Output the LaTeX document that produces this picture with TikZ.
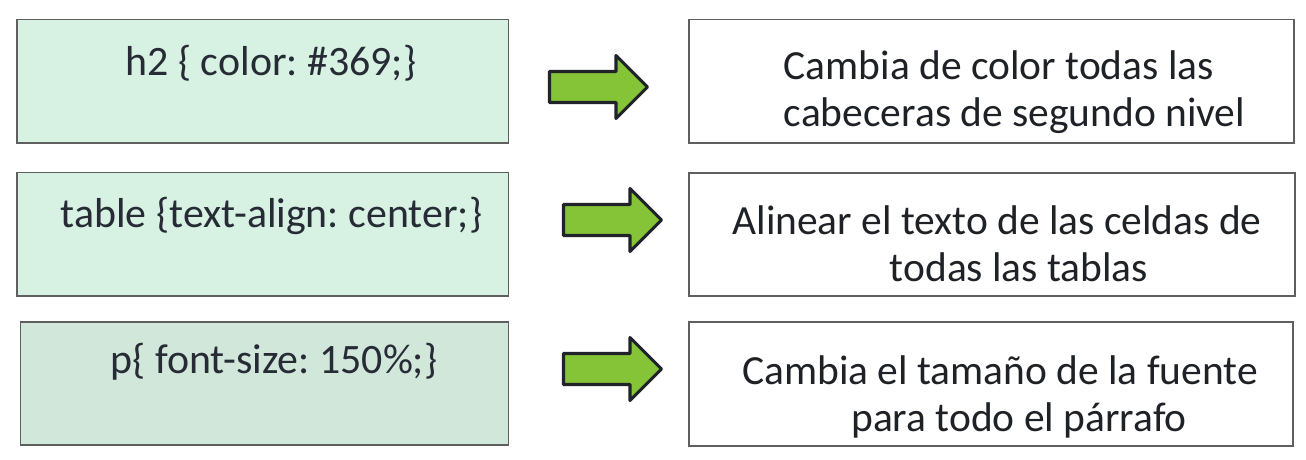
\documentclass[tikz,border=0pt]{standalone}
\usepackage{fontspec}
\setmainfont{Carlito}
\frenchspacing
\definecolor{mintA}{HTML}{D7F1E3}
\definecolor{mintB}{HTML}{D0E7DA}
\definecolor{boxline}{HTML}{5F5F5F}
\definecolor{arrowgreen}{HTML}{85C436}
\definecolor{arrowline}{HTML}{20242A}
\definecolor{codetext}{HTML}{262B35}
\definecolor{desctext}{HTML}{1E2226}
\newcommand\greenarrow[3]{%
  \draw[blockarrow] (#1,#3-15.5) -- (#2-31.5,#3-15.5) -- (#2-31.5,#3-31.5) -- (#2,#3)
    -- (#2-31.5,#3+31.5) -- (#2-31.5,#3+15.5) -- (#1,#3+15.5) -- cycle;}
\begin{document}
\begin{tikzpicture}[x=0.75pt,y=-0.75pt,
  boxframe/.style={draw=boxline,line width=1pt},
  blockarrow/.style={draw=arrowline,fill=arrowgreen,line width=2.3pt,line join=round},
  codelabel/.style={anchor=base,inner sep=0pt,text=codetext,font=\fontsize{31.4pt}{34.5pt}\selectfont\frenchspacing},
  desclabel/.style={anchor=base,inner sep=0pt,text=desctext,font=\fontsize{31.1pt}{34.8pt}\selectfont\frenchspacing}]
\useasboundingbox[fill=white] (0,0) rectangle (1306,460);
% left boxes
\draw[boxframe,fill=mintA] (17,19.5) rectangle (508.5,143);
\draw[boxframe,fill=mintA] (17,172.7) rectangle (508.5,296);
\draw[boxframe,fill=mintB] (20.5,322) rectangle (508.5,445);
% right boxes
\draw[boxframe,fill=white] (689,19.5) rectangle (1294,143);
\draw[boxframe,fill=white] (689,173) rectangle (1295,296);
\draw[boxframe,fill=white] (689,322) rectangle (1293,446);
% code texts
\node[codelabel] (c1) at (271,75) {h2 \{ color: \#369;\}};
\node[codelabel] (c2) at (271.5,227) {table \{text-align: center;\}};
\node[codelabel] (c3) at (274,373) {p\{ font-size: 150\%;\}};
% arrows
\greenarrow{549.5}{647.5}{87}
\greenarrow{563.5}{661.5}{220}
\greenarrow{563.5}{661.5}{369}
% descriptions
\node[desclabel,align=left] (d1) at (1014.5,126) {Cambia de color todas las\\cabeceras de segundo nivel};
\node[desclabel,align=center] (d2) at (997,281) {Alinear el texto de las celdas de\\\hspace*{33pt}todas las tablas};
\node[desclabel,align=center] (d3) at (1000,431) {Cambia el tamaño de la fuente\\\hspace*{28.5pt}para todo el párrafo};
\end{tikzpicture}
\end{document}
